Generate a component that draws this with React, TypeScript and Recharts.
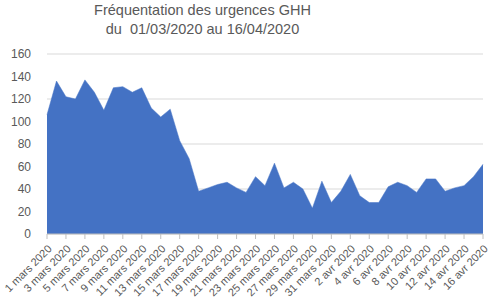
import React from "react";
import { AreaChart, Area, XAxis, YAxis, CartesianGrid } from "recharts";

const dates: string[] = [
  "1 mars 2020", "2 mars 2020", "3 mars 2020", "4 mars 2020", "5 mars 2020", "6 mars 2020",
  "7 mars 2020", "8 mars 2020", "9 mars 2020", "10 mars 2020", "11 mars 2020", "12 mars 2020",
  "13 mars 2020", "14 mars 2020", "15 mars 2020", "16 mars 2020", "17 mars 2020", "18 mars 2020",
  "19 mars 2020", "20 mars 2020", "21 mars 2020", "22 mars 2020", "23 mars 2020", "24 mars 2020",
  "25 mars 2020", "26 mars 2020", "27 mars 2020", "28 mars 2020", "29 mars 2020", "30 mars 2020",
  "31 mars 2020", "1 avr 2020", "2 avr 2020", "3 avr 2020", "4 avr 2020", "5 avr 2020",
  "6 avr 2020", "7 avr 2020", "8 avr 2020", "9 avr 2020", "10 avr 2020", "11 avr 2020",
  "12 avr 2020", "13 avr 2020", "14 avr 2020", "15 avr 2020", "16 avr 2020",
];

const passages: number[] = [
  106, 136, 122, 120, 137, 126, 110, 130, 131, 126, 130, 112,
  104, 111, 83, 67, 38, 41, 44, 46, 41, 37, 51, 43,
  63, 41, 46, 40, 23, 47, 28, 38, 53, 34, 28, 28,
  42, 46, 43, 37, 49, 49, 38, 41, 43, 51, 62,
];

const yTicks: number[] = [0, 20, 40, 60, 80, 100, 120, 140, 160];

const data = dates.map((d, i) => ({ date: d, value: passages[i] }));

const FONT = "'Liberation Sans', Arial, sans-serif";

export default function App() {
  return (
    <div style={{ position: "absolute", left: 0, top: 0, width: 497, height: 303, background: "#fff", fontFamily: FONT }}>
      <div style={{ position: "absolute", left: 0, top: 1, width: 405, textAlign: "center", color: "#595959", fontSize: 14.5, lineHeight: "19px" }}>
        <div>Fréquentation des urgences GHH</div>
        <div>du&nbsp; 01/03/2020 au 16/04/2020</div>
      </div>
      <AreaChart
        width={497}
        height={303}
        data={data}
        margin={{ top: 54, right: 14, left: 0, bottom: 0 }}
      >
        <CartesianGrid vertical={false} stroke="#d9d9d9" />
        <XAxis
          dataKey="date"
          interval={1}
          angle={-45}
          textAnchor="end"
          height={69}
          tick={{ fill: "#595959", fontSize: 11, fontFamily: FONT }}
          tickLine={{ stroke: "#bfbfbf" }}
          axisLine={{ stroke: "#bfbfbf" }}
          tickSize={5}
          tickMargin={5}
        />
        <YAxis
          domain={[0, 160]}
          ticks={yTicks}
          width={47}
          axisLine={false}
          tickLine={false}
          tick={{ fill: "#595959", fontSize: 12, fontFamily: FONT }}
          tickMargin={10}
        />
        <Area
          type="linear"
          dataKey="value"
          stroke="#4472C4"
          strokeWidth={0.5}
          fill="#4472C4"
          fillOpacity={1}
          isAnimationActive={false}
          dot={false}
          activeDot={false}
        />
      </AreaChart>
    </div>
  );
}
